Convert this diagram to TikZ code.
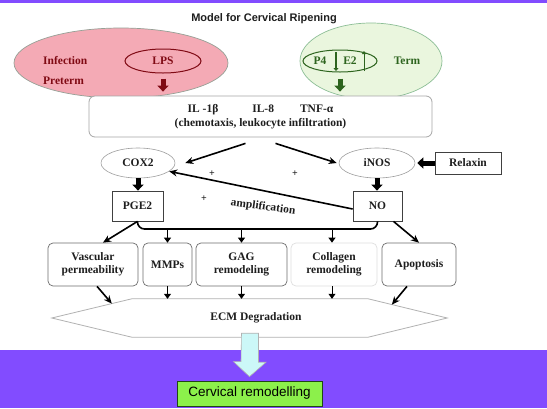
\documentclass[tikz,border=0pt]{standalone}
\usepackage{fontspec}
\setmainfont{Liberation Serif}
\newfontfamily\arialf{Liberation Sans}
\usetikzlibrary{arrows.meta,calc,shapes.geometric}
\definecolor{purp}{RGB}{130,76,255}
\definecolor{pinkfill}{RGB}{244,170,181}
\definecolor{pinkline}{RGB}{150,160,150}
\definecolor{greenfill}{RGB}{234,246,222}
\definecolor{greenline}{RGB}{140,190,150}
\definecolor{maroonc}{RGB}{128,10,20}
\definecolor{dgreen}{RGB}{45,100,30}
\definecolor{cyanfill}{RGB}{204,248,248}
\definecolor{limefill}{RGB}{140,240,75}
\definecolor{boxline}{RGB}{110,110,110}
\definecolor{txt}{RGB}{30,30,30}
\begin{document}
\begin{tikzpicture}[x=1pt,y=-1pt,
  font=\bfseries\fontsize{11.5}{13}\selectfont, text=txt,
  ell/.style={ellipse, draw=gray!75, fill=white, line width=0.6pt, inner sep=0pt, minimum height=30},
  sqbox/.style={draw=black!75, fill=white, line width=0.8pt, inner sep=0pt, minimum height=30},
  rbox/.style={draw=boxline, rounded corners=5pt, fill=white, align=center, minimum height=43, inner sep=1pt, line width=0.7pt},
  thinarr/.style={line width=1.6pt, -{Stealth[length=8pt,width=7pt]}},
  smallarr/.style={line width=1pt, -{Triangle[length=5pt,width=7pt]}},
  blockarr/.style={line width=5pt, -{Triangle[length=6pt,width=11pt]}},
  plus/.style={font=\bfseries\fontsize{10}{11}\selectfont}
]
\useasboundingbox (0,0) rectangle (547,408);
\fill[white] (0,0) rectangle (547,408);
\fill[purp] (0,0) rectangle (547,3);
\fill[purp] (0,350) rectangle (547,408);

% title
\node[font=\arialf\bfseries\fontsize{11}{13}\selectfont] (title) at (264,19) {Model for Cervical Ripening};

% top ellipses
\node[ellipse, draw=pinkline, fill=pinkfill, line width=0.7pt, minimum width=214, minimum height=70] (pinkell) at (121,63) {};
\node[ellipse, draw=maroonc, line width=1pt, minimum width=76, minimum height=24, inner sep=0pt, text=maroonc] (lps) at (163,61) {LPS};
\node[anchor=west, text=maroonc, inner sep=0pt] (infection) at (43,61) {Infection};
\node[anchor=west, text=maroonc, inner sep=0pt] (preterm) at (43,81) {Preterm};

\node[ellipse, draw=greenline, fill=greenfill, line width=0.7pt, minimum width=142, minimum height=76] (greenell) at (371,61) {};
\node[ellipse, draw=dgreen, line width=1pt, minimum width=74, minimum height=22, inner sep=0pt] (p4ell) at (340,61) {};
\node[text=dgreen, inner sep=0pt] (p4) at (320,61) {P4};
\node[text=dgreen, inner sep=0pt] (e2) at (350,61) {E2};
\node[text=dgreen, inner sep=0pt] (term) at (407,61) {Term};
\coordinate (dA) at (336,52); \coordinate (dB) at (336,71);
\coordinate (uA) at (364,71); \coordinate (uB) at (364,51);
\draw[dgreen, line width=2.6pt, -{Triangle[length=3pt,width=5pt]}] (dA) -- (dB);
\draw[dgreen, line width=1pt, -{Triangle[length=3pt,width=4pt]}] (uA) -- (uB);

% cytokine box
\node[draw=gray!70, rounded corners=6pt, fill=white, minimum width=343, minimum height=41, align=center, inner sep=0pt, line width=0.8pt] (cyt) at (260.5,116.5)
  {IL -1β\hspace{34pt}IL-8\hspace{26pt}TNF-α\\[1pt](chemotaxis, leukocyte infiltration)};

\draw[blockarr, maroonc, shorten <=5pt, shorten >=4pt] (lps.south) -- (lps.south |- cyt.north);
\draw[blockarr, dgreen, shorten <=6pt, shorten >=4pt] (p4ell.south) -- (p4ell.south |- cyt.north);

% middle
\node[ell, minimum width=74] (cox) at (138,163) {COX2};
\node[ell, minimum width=76] (inos) at (377,163) {iNOS};
\node[sqbox, minimum width=66, minimum height=22] (relaxin) at (468,163) {Relaxin};
\node[sqbox, minimum width=51] (pge) at (137.5,206) {PGE2};
\node[sqbox, minimum width=49] (no) at (377.5,206) {NO};

\draw[thinarr] ([xshift=-15pt,yshift=-6pt]cyt.south) -- ([xshift=10pt]cox.east);
\draw[thinarr] ([xshift=15pt,yshift=-6pt]cyt.south) -- ([xshift=-2pt]inos.west);
\draw[thinarr] ([yshift=-3pt]no.west) -- (cox.-15);
\draw[blockarr] (cox.south) -- (cox.south |- pge.north);
\draw[blockarr] (inos.south) -- (inos.south |- no.north);
\draw[blockarr] (relaxin.west) -- ([xshift=2pt]inos.east);

\node[plus] (p1) at (212,174) {+};
\node[plus] (p2) at (295,174) {+};
\node[plus] (p3) at (204,199) {+};
\node[rotate=-8] (ampl) at (263,207) {amplification};

% bottom boxes
\node[rbox, minimum width=90] (vasc) at (93,264.5) {Vascular\\permeability};
\node[rbox, minimum width=49] (mmps) at (167.5,264.5) {MMPs};
\node[rbox, minimum width=91] (gag) at (241.5,264.5) {GAG\\remodeling};
\node[rbox, minimum width=86, draw=gray!25] (coll) at (334,264.5) {Collagen\\remodeling};
\node[rbox, minimum width=74] (apop) at (419,264.5) {Apoptosis};

\coordinate (brk) at (260,229);
\draw[line width=1.6pt, rounded corners=7pt] (pge.south) |- (brk) -| (no.south);
\draw[smallarr] (mmps.north |- brk) -- (mmps.north);
\draw[smallarr] (gag.north |- brk) -- (gag.north);
\draw[smallarr] ([xshift=-2pt]coll.north |- brk) -- ([xshift=-2pt]coll.north);
\draw[thinarr] (pge.south) -- ([xshift=10pt]vasc.north);
\draw[thinarr] ([xshift=16pt]no.south) -- (apop.north);

% ECM
\node[minimum width=236, minimum height=38, inner sep=0pt] (ecm) at (250,318) {\hspace{12pt}ECM Degradation};
\coordinate (ecmL) at ([xshift=-80pt]ecm.west);
\coordinate (ecmR) at ([xshift=79pt]ecm.east);
\draw[gray!60, line width=0.8pt] (ecmL) -- (ecm.north west) -- (ecm.north east) -- (ecmR) -- (ecm.south east) -- (ecm.south west) -- cycle;

\draw[thinarr] ([xshift=4pt]vasc.south) -- ($(ecmL)!0.75!(ecm.north west)$);
\draw[thinarr] ([xshift=-12pt]apop.south) -- ($(ecmR)!0.7!(ecm.north east)$);
\draw[smallarr] (mmps.south) -- (mmps.south |- ecm.north);
\draw[smallarr] (gag.south) -- (gag.south |- ecm.north);
\draw[smallarr] ([xshift=-2pt]coll.south) -- ([xshift=-2pt]coll.south |- ecm.north);

% result
\node[draw=dgreen!70!black, fill=limefill, line width=0.8pt, minimum width=145, minimum height=25, inner sep=0pt,
  font=\arialf\fontsize{13.5}{15}\selectfont, text=black] (cerv) at (249.5,393.5) {Cervical remodelling};
\draw[draw=gray!60, fill=cyanfill, line width=0.6pt]
  ([xshift=-8.5pt,yshift=4pt]ecm.south) -- ++(17,0) -- ++(0,29) -- ++(7.5,0) -- ([yshift=4pt]cerv.north) -- ++(-16,-15) -- ++(7.5,0) -- cycle;
\end{tikzpicture}
\end{document}
